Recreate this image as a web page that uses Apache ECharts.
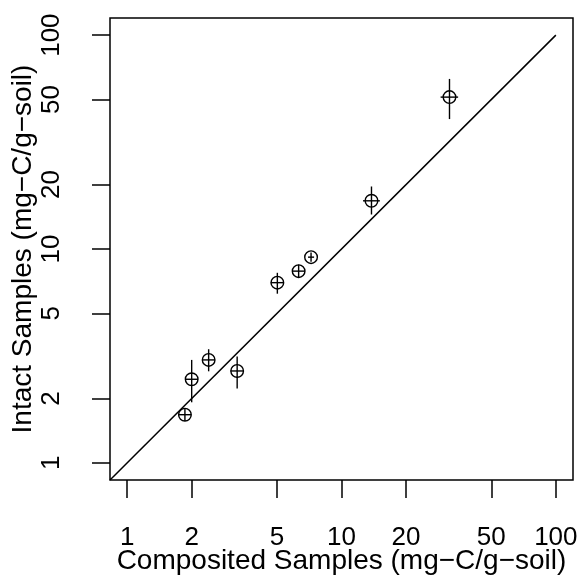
<!DOCTYPE html>
<html>
<head>
<meta charset="utf-8">
<script src="https://cdn.jsdelivr.net/npm/echarts@6/dist/echarts.min.js"></script>
<style>html,body{margin:0;padding:0;background:#fff}#c{width:582px;height:581px}</style>
</head>
<body>
<div id="c"></div>
<script>
// Composited (x) vs intact (y) samples, mg-C/g-soil
var xVals = [1.86, 2.0, 2.40, 3.26, 5.02, 6.31, 7.21, 13.8, 31.9];
var yVals = [1.68, 2.46, 3.03, 2.69, 6.96, 7.88, 9.16, 16.8, 51.3];
var yLow  = [1.57, 1.92, 2.68, 2.23, 6.18, 7.35, 8.72, 14.5, 40.5];
var yHigh = [1.80, 3.03, 3.40, 3.14, 7.74, 8.45, 9.62, 19.6, 62.4];
var xLow  = [1.74, 1.87, 2.24, 3.04, 4.68, 5.89, 6.98, 12.6, 29.0];
var xHigh = [1.99, 2.14, 2.57, 3.49, 5.38, 6.76, 7.45, 15.1, 35.0];
var tickVals = [1, 2, 5, 10, 20, 50, 100];
var axisMin = Math.pow(10, -0.08), axisMax = Math.pow(10, 2.08);
var refLine = [[axisMin, axisMin], [100, 100]];

var pts = xVals.map(function (x, i) { return [x, yVals[i], xLow[i], xHigh[i], yLow[i], yHigh[i]]; });
var font = '"Liberation Sans", Arial, Helvetica, sans-serif';

var chart = echarts.init(document.getElementById('c'), null, {renderer: 'canvas'});
chart.setOption({
  animation: false,
  backgroundColor: '#fff',
  grid: {left: 110, right: 9, top: 18, bottom: 101, show: true, borderColor: '#000', borderWidth: 1.5, backgroundColor: 'transparent', containLabel: false, outerBoundsMode: 'none'},
  xAxis: {
    type: 'log', logBase: 10, min: axisMin, max: axisMax,
    name: 'Composited Samples (mg\u2212C/g\u2212soil)', nameLocation: 'middle', nameGap: 67, nameMoveOverlap: false,
    nameTextStyle: {fontFamily: font, fontSize: 28, color: '#000'},
    axisLine: {show: false},
    splitLine: {show: false},
    axisTick: {show: true, length: 18, lineStyle: {color: '#000', width: 1.5}, customValues: tickVals},
    axisLabel: {fontFamily: font, fontSize: 26, color: '#000', margin: 45, customValues: tickVals}
  },
  yAxis: {
    type: 'log', logBase: 10, min: axisMin, max: axisMax,
    name: 'Intact Samples (mg\u2212C/g\u2212soil)', nameLocation: 'middle', nameGap: 73, nameRotate: 90, nameMoveOverlap: false,
    nameTextStyle: {fontFamily: font, fontSize: 28, color: '#000'},
    axisLine: {show: false},
    splitLine: {show: false},
    axisTick: {show: true, length: 18, lineStyle: {color: '#000', width: 1.5}, customValues: tickVals},
    axisLabel: {fontFamily: font, fontSize: 26, color: '#000', margin: 45, rotate: 90, customValues: tickVals}
  },
  series: [
    {
      type: 'line', data: refLine, symbol: 'none', silent: true,
      lineStyle: {color: '#000', width: 1.5}
    },
    {
      type: 'custom',
      data: pts,
      encode: {x: 0, y: 1},
      renderItem: function (params, api) {
        var c = api.coord([api.value(0), api.value(1)]);
        var xl = api.coord([api.value(2), api.value(1)]);
        var xh = api.coord([api.value(3), api.value(1)]);
        var yl = api.coord([api.value(0), api.value(4)]);
        var yh = api.coord([api.value(0), api.value(5)]);
        var st = {stroke: '#000', lineWidth: 1.4, fill: null};
        return {
          type: 'group',
          children: [
            {type: 'circle', shape: {cx: c[0], cy: c[1], r: 6.3}, style: {stroke: '#000', lineWidth: 1.4, fill: 'none'}},
            {type: 'line', shape: {x1: xl[0], y1: xl[1], x2: xh[0], y2: xh[1]}, style: st},
            {type: 'line', shape: {x1: yl[0], y1: yl[1], x2: yh[0], y2: yh[1]}, style: st}
          ]
        };
      }
    }
  ]
});
</script>
</body>
</html>
